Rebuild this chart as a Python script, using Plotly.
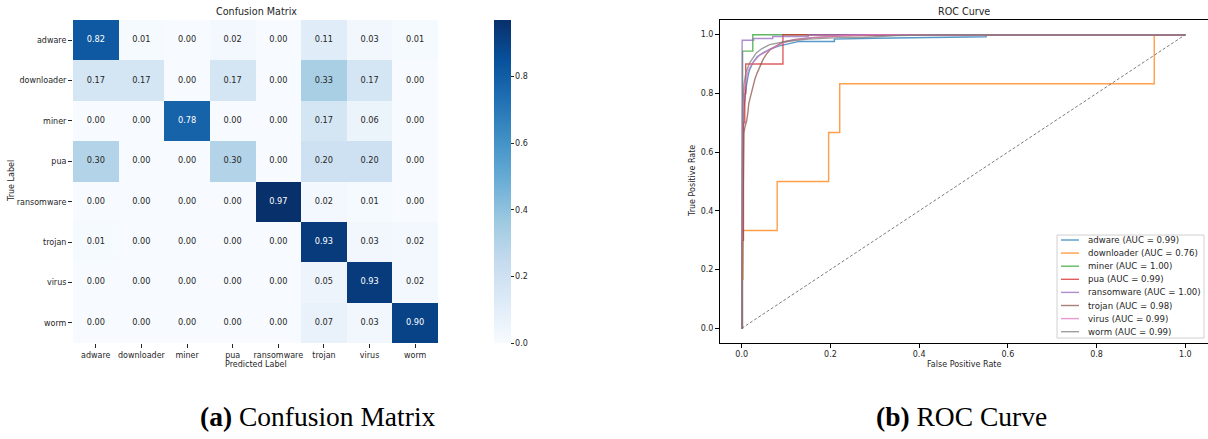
import plotly.graph_objects as go

# ---------------- data ----------------
classes = ["adware", "downloader", "miner", "pua", "ransomware", "trojan", "virus", "worm"]

cm_adware = [0.82, 0.01, 0.00, 0.02, 0.00, 0.11, 0.03, 0.01]
cm_downloader = [0.17, 0.17, 0.00, 0.17, 0.00, 0.33, 0.17, 0.00]
cm_miner = [0.00, 0.00, 0.78, 0.00, 0.00, 0.17, 0.06, 0.00]
cm_pua = [0.30, 0.00, 0.00, 0.30, 0.00, 0.20, 0.20, 0.00]
cm_ransomware = [0.00, 0.00, 0.00, 0.00, 0.97, 0.02, 0.01, 0.00]
cm_trojan = [0.01, 0.00, 0.00, 0.00, 0.00, 0.93, 0.03, 0.02]
cm_virus = [0.00, 0.00, 0.00, 0.00, 0.00, 0.05, 0.93, 0.02]
cm_worm = [0.00, 0.00, 0.00, 0.00, 0.00, 0.07, 0.03, 0.90]
cm_rows = [cm_adware, cm_downloader, cm_miner, cm_pua, cm_ransomware, cm_trojan, cm_virus, cm_worm]

adware_fpr = [0, 0.001, 0.002, 0.005, 0.008, 0.011, 0.015, 0.018, 0.025, 0.035, 0.048, 0.065, 0.085, 0.108, 0.13, 0.209, 0.209, 0.30, 0.40, 0.551, 0.551, 1.0]
adware_tpr = [0, 0.30, 0.60, 0.75, 0.80, 0.83, 0.865, 0.881, 0.904, 0.925, 0.938, 0.952, 0.962, 0.969, 0.977, 0.977, 0.985, 0.988, 0.990, 0.993, 1.0, 1.0]

downloader_fpr = [0, 0, 0.003, 0.003, 0.080, 0.080, 0.196, 0.196, 0.221, 0.221, 0.930, 0.930, 1.0]
downloader_tpr = [0, 0.167, 0.167, 0.333, 0.333, 0.5, 0.5, 0.667, 0.667, 0.833, 0.833, 1.0, 1.0]

miner_fpr = [0, 0.002, 0.002, 0.025, 0.025, 1.0]
miner_tpr = [0, 0, 0.944, 0.944, 1.0, 1.0]

pua_fpr = [0, 0.001, 0.001, 0.004, 0.004, 0.007, 0.007, 0.009, 0.009, 0.093, 0.093, 1.0]
pua_tpr = [0, 0, 0.3, 0.3, 0.7, 0.7, 0.8, 0.8, 0.9, 0.9, 1.0, 1.0]

ransomware_fpr = [0, 0.001, 0.001, 0.027, 0.027, 0.07, 0.07, 0.15, 0.15, 1.0]
ransomware_tpr = [0, 0, 0.981, 0.981, 0.987, 0.987, 0.994, 0.994, 1.0, 1.0]

trojan_fpr = [0, 0.001, 0.002, 0.003, 0.005, 0.008, 0.011, 0.014, 0.016, 0.020, 0.025, 0.030, 0.035, 0.041, 0.048, 0.055, 0.065, 0.078, 0.093, 0.12, 0.16, 0.22, 0.30, 0.40, 1.0]
trojan_tpr = [0, 0.20, 0.40, 0.59, 0.665, 0.69, 0.705, 0.735, 0.765, 0.79, 0.824, 0.85, 0.87, 0.892, 0.915, 0.932, 0.95, 0.962, 0.975, 0.984, 0.99, 0.995, 0.998, 1.0, 1.0]

virus_fpr = [0, 0.001, 0.002, 0.005, 0.010, 0.015, 0.025, 0.040, 0.056, 0.074, 0.093, 0.12, 0.16, 0.23, 0.30, 1.0]
virus_tpr = [0, 0.40, 0.70, 0.80, 0.85, 0.88, 0.904, 0.93, 0.943, 0.955, 0.972, 0.982, 0.99, 0.997, 1.0, 1.0]

worm_fpr = [0, 0.001, 0.002, 0.005, 0.010, 0.018, 0.033, 0.045, 0.063, 0.10, 0.15, 0.22, 0.27, 0.35, 0.45, 1.0]
worm_tpr = [0, 0.50, 0.75, 0.83, 0.875, 0.904, 0.938, 0.952, 0.966, 0.977, 0.985, 0.99, 0.99, 0.997, 1.0, 1.0]

roc_fprs = [adware_fpr, downloader_fpr, miner_fpr, pua_fpr, ransomware_fpr, trojan_fpr, virus_fpr, worm_fpr]
roc_tprs = [adware_tpr, downloader_tpr, miner_tpr, pua_tpr, ransomware_tpr, trojan_tpr, virus_tpr, worm_tpr]
auc_labels = ["0.99", "0.76", "1.00", "0.99", "1.00", "0.98", "0.99", "0.99"]

diag_x = [0, 1]
diag_y = [0, 1]

# ---------------- styles ----------------
W, H = 1208, 439
FONT = "DejaVu Sans"
TXT = "#262626"
tab10 = ["31,119,180", "255,127,14", "44,160,44", "214,39,40",
         "148,103,189", "140,86,75", "227,119,194", "127,127,127"]
ALPHA = 0.75
blues = [[0.0, "#f7fbff"], [0.125, "#deebf7"], [0.25, "#c6dbef"], [0.375, "#9ecae1"],
         [0.5, "#6baed6"], [0.625, "#4292c6"], [0.75, "#2171b5"], [0.875, "#08519c"],
         [1.0, "#08306b"]]


def px(x):
    return x / W


def py(y):
    return 1 - y / H


zmax = max(max(r) for r in cm_rows)

fig = go.Figure()

# heatmap
fig.add_trace(go.Heatmap(
    z=cm_rows, x=classes, y=classes, colorscale=blues, zmin=0, zmax=zmax,
    xaxis="x", yaxis="y", hoverinfo="skip",
    colorbar=dict(
        x=px(494), xanchor="left", y=py(20), yanchor="top",
        thickness=17, thicknessmode="pixels", len=323 / H, lenmode="fraction",
        outlinewidth=0, ticks="outside", ticklen=3, tickwidth=1, tickcolor=TXT,
        tickvals=[0, 0.2, 0.4, 0.6, 0.8], tickformat=".1f",
        tickfont=dict(family=FONT, size=8, color=TXT), xpad=0, ypad=0,
    ),
))

# annotation text for cells
tx, ty, tt, tc = [], [], [], []
for i, row in enumerate(cm_rows):
    for j, v in enumerate(row):
        tx.append(classes[j])
        ty.append(classes[i])
        tt.append(f"{v:.2f}")
        tc.append("white" if v > 0.6 else TXT)
fig.add_trace(go.Scatter(
    x=tx, y=ty, text=tt, mode="text", textfont=dict(family=FONT, size=8.2, color=tc),
    xaxis="x", yaxis="y", hoverinfo="skip", showlegend=False,
))

# ROC curves
for k, cls in enumerate(classes):
    fig.add_trace(go.Scatter(
        x=roc_fprs[k], y=roc_tprs[k], mode="lines",
        line=dict(color=f"rgba({tab10[k]},{ALPHA})", width=1.4),
        xaxis="x2", yaxis="y2", showlegend=False, hoverinfo="skip",
    ))
fig.add_trace(go.Scatter(
    x=diag_x, y=diag_y, mode="lines",
    line=dict(color="rgba(110,110,110,0.9)", width=1, dash="3px,2px"),
    xaxis="x2", yaxis="y2", showlegend=False, hoverinfo="skip",
))

axfont = dict(family=FONT, size=8, color=TXT)

fig.update_layout(
    width=W, height=H, margin=dict(l=0, r=0, t=0, b=0),
    paper_bgcolor="white", plot_bgcolor="white", showlegend=False,
    xaxis=dict(domain=[px(73), px(438)], anchor="y", type="category",
               ticks="outside", ticklen=4, tickwidth=1, tickcolor=TXT,
               tickfont=axfont, showgrid=False, zeroline=False, showline=False),
    yaxis=dict(domain=[py(343), py(20)], anchor="x", type="category", autorange="reversed",
               ticks="outside", ticklen=4, tickwidth=1, tickcolor=TXT,
               tickfont=axfont, showgrid=False, zeroline=False, showline=False),
    xaxis2=dict(domain=[px(719.5), px(1207.5)], anchor="y2", range=[-0.05, 1.05],
                tickvals=[0, 0.2, 0.4, 0.6, 0.8, 1.0], tickformat=".1f",
                ticks="outside", ticklen=3.5, tickwidth=1, tickcolor="black",
                tickfont=axfont, showgrid=False, zeroline=False,
                showline=True, mirror=True, linecolor="black", linewidth=1),
    yaxis2=dict(domain=[py(343), py(20)], anchor="x2", range=[-0.05, 1.05],
                tickvals=[0, 0.2, 0.4, 0.6, 0.8, 1.0], tickformat=".1f",
                ticks="outside", ticklen=3.5, tickwidth=1, tickcolor="black",
                tickfont=axfont, showgrid=False, zeroline=False,
                showline=True, mirror=True, linecolor="black", linewidth=1),
)

ann = []
shapes = []


def label(text, x, y, size=8, angle=0, family=FONT, xanchor="center", color=TXT):
    ann.append(dict(text=text, x=px(x), y=py(y), xref="paper", yref="paper",
                    showarrow=False, textangle=angle, xanchor=xanchor, yanchor="middle",
                    font=dict(family=family, size=size, color=color)))


label("Confusion Matrix", 256, 12, size=9.6)
label("Predicted Label", 256, 364)
label("True Label", 12, 181, angle=-90)
label("ROC Curve", 964, 12, size=9.6)
label("False Positive Rate", 964, 364)
label("True Positive Rate", 693, 181, angle=-90)
label("<b>(a)</b> Confusion Matrix", 318, 416, size=27.5, family="Liberation Serif", color="black")
label("<b>(b)</b> ROC Curve", 961, 416, size=27.5, family="Liberation Serif", color="black")

# legend box
shapes.append(dict(type="rect", xref="paper", yref="paper",
                   x0=px(1057), x1=px(1204), y0=py(338), y1=py(235),
                   line=dict(color="#d0d0d0", width=1), fillcolor="rgba(255,255,255,0.85)"))
for k, cls in enumerate(classes):
    yk = 240 + 13.1 * k
    shapes.append(dict(type="line", xref="paper", yref="paper",
                       x0=px(1061), x1=px(1079), y0=py(yk), y1=py(yk),
                       line=dict(color=f"rgba({tab10[k]},{ALPHA})", width=1.4)))
    label(f"{cls} (AUC = {auc_labels[k]})", 1085.5, yk, size=8.6, xanchor="left")

fig.update_layout(annotations=ann, shapes=shapes)
fig.write_html(
    "out.html",
    config={"displayModeBar": False, "staticPlot": True},
    post_script="document.body.style.margin='0';document.body.style.overflow='hidden';",
)
